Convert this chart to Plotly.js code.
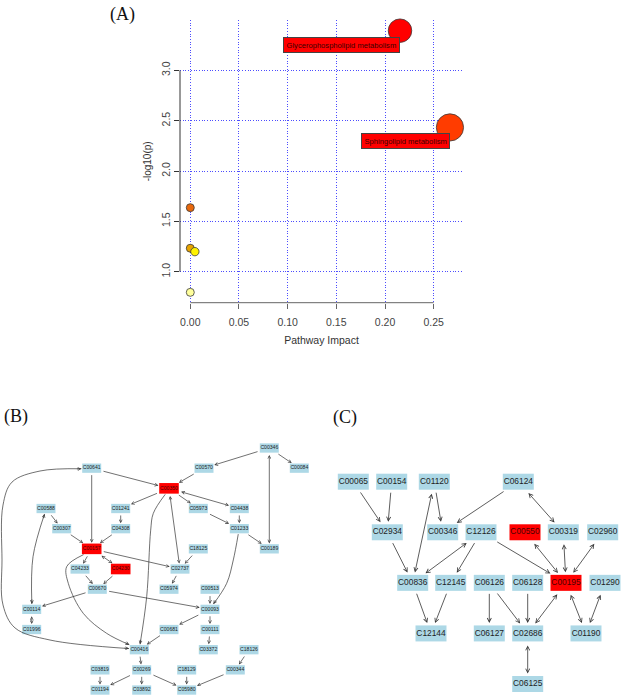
<!DOCTYPE html>
<html><head><meta charset="utf-8">
<script src="https://cdn.plot.ly/plotly-3.0.1.min.js"></script>
<style>html,body{margin:0;padding:0;background:#fff}#chart{width:622px;height:697px}</style>
</head><body><div id="chart"></div>
<script>
// ================= DATA =================
// Panel A : pathway analysis
var pathwayNames  = ['Glycerophospholipid metabolism','Sphingolipid metabolism','','','',''];
var pathwayImpact = [0.2154, 0.2667, 0.0, 0.0, 0.0047, 0.0];
var pathwayLogP   = [3.394, 2.433, 1.636, 1.233, 1.199, 0.795];
var impactTicks   = [0, 0.05, 0.10, 0.15, 0.20, 0.25];
var logpTicks     = [1.0, 1.5, 2.0, 2.5, 3.0];

// Panel B : network (x in layout points, y in layout rank)
var netBIds = ['C00346','C00570','C00084','C00641','C00350','C00588','C01241','C05973','C04438',
  'C00307','C04308','C01233','C00157','C18125','C00189','C04233','C04230','C02737','C00670',
  'C05974','C00513','C00114','C00093','C01996','C00681','C00111','C00416','C03372','C18126',
  'C03819','C00269','C18129','C00344','C01194','C03892','C05980'];
var netBX = [269.3,204,299.3,91.7,169,46,120.7,198.3,239.3,
  61.7,120.7,239.3,91.7,198.3,269.3,80,120.7,180,97.3,
  169,210,31.7,210,31.7,169,210,139.3,208.3,249,
  100,141.7,186.7,235.3,100,141.7,186.7];
var netBRank = [0,1,1,1,2,3,3,3,3,
  4,4,4,5,5,5,6,6,6,7,
  7,7,8,8,9,9,9,10,10,10,
  11,11,11,11,12,12,12];
var netBHits = ['C00350','C00157','C04230'];
var netBEdges = [
  ['C00346','C00570','->'],['C00346','C00084','->'],['C00346','C00189','<->'],
  ['C00570','C00350','->'],['C00641','C00350','->'],['C00641','C00157','->'],
  ['C00350','C01241','->'],['C00350','C05973','->'],['C00350','C04438','<->'],
  ['C00350','C02737','<->'],['C01241','C04308','->'],['C04308','C00157','->'],
  ['C00588','C00307','->'],['C00307','C00157','->'],['C04438','C01233','->'],
  ['C05973','C01233','->'],['C01233','C00189','->'],['C00157','C04233','->'],
  ['C00157','C04230','<->'],['C00157','C02737','->'],['C18125','C02737','->'],
  ['C02737','C05974','->'],['C04233','C00670','->'],['C04230','C00670','->'],
  ['C00670','C00114','->'],['C00670','C00093','->'],['C00513','C00093','->'],
  ['C00114','C01996','<->'],['C00093','C00681','->'],['C00093','C00111','->'],
  ['C00681','C00416','->'],['C00111','C03372','->'],['C00416','C00269','->'],
  ['C18126','C00344','->'],['C00344','C05980','->'],['C18129','C05980','->'],
  ['C00269','C01194','->'],['C00269','C03892','->'],['C00269','C05980','->'],
  ['C03819','C01194','->']
];
// routed (curved) edges, with routing points
var netBCurvedEdges = [
  {from:'C00641', to:'C00416', dir:'<->', via:[[40,1.14],[12,1.69],[3,2.83],[2,5.55],[3,7.78],[15,8.92],[50,9.52]]},
  {from:'C00588', to:'C00114', dir:'<->', via:[[33,5.39]]},
  {from:'C00350', to:'C00416', dir:'->',  via:[[153.3,3.24],[150.7,4.07],[146.7,7.37]]},
  {from:'C00157', to:'C00416', dir:'->',  via:[[66.7,5.88],[68.3,6.71],[83.3,8.2],[106.7,9.19]]},
  {from:'C01233', to:'C00093', dir:'->',  via:[[233.3,5.55],[226.7,6.71]]}
];

// Panel C : network
var netCIds = ['C00065','C00154','C01120','C06124','C02934','C00346','C12126','C00550','C00319',
  'C02960','C00836','C12145','C06126','C06128','C00195','C01290','C12144','C06127','C02686',
  'C01190','C06125'];
var netCX = [43.3,81.7,124.3,208.3,77.3,132.7,171,215,253.3,
  292.7,102.7,140.7,179.3,217.7,256,295,121,179.3,217.7,
  276,217.7];
var netCRank = [0,0,0,0,1,1,1,1,1,
  1,2,2,2,2,2,2,3,3,3,
  3,4];
var netCHits = ['C00550','C00195'];
var netCEdges = [
  ['C00065','C02934','->'],['C00154','C02934','->'],['C01120','C00346','->'],
  ['C01120','C00836','<->'],['C06124','C00346','->'],['C06124','C00319','<->'],
  ['C02934','C00836','->'],['C12126','C00836','<->'],['C12126','C12145','->'],
  ['C12126','C00195','->'],['C00550','C00195','<->'],['C00319','C00195','<->'],
  ['C02960','C00195','<->'],['C00836','C12144','->'],['C12145','C12144','->'],
  ['C06126','C06127','->'],['C06126','C02686','->'],['C06128','C02686','->'],
  ['C00195','C02686','<->'],['C00195','C01190','<->'],['C01290','C01190','<->'],
  ['C02686','C06125','<->']
];

// ================= STYLE / GEOMETRY =================
var W = 622, H = 697;
var SANS = 'Liberation Sans, Arial, sans-serif';
var SERIF = 'Liberation Serif, Times New Roman, serif';
var heatPalette = ['#FF0000','#FF3C00','#E8680C','#E8A400','#FFF200','#FFFF9C'];
var netTop = 400; // px
var cfgB = {xa:'x2', ya:'y2', xDomain:[0, 310/W], xRange:[0,310], yRange:[12.345,-2.38],
  hw:9.5, hh:4.65, hwHit:9.8, hhHit:5.3, gapHead:0.8, gapTail:0.8,
  font:5.1, asize:0.85, awidth:0.7, lineW:0.7};
var cfgC = {xa:'x3', ya:'y3', xDomain:[310/W, 1], xRange:[0,312], yRange:[4.257,-1.6154],
  hw:15.5, hh:8, hwHit:15.5, hhHit:8, gapHead:2.5, gapTail:1.5,
  font:8.4, asize:1.0, awidth:0.8, lineW:0.8};
[cfgB, cfgC].forEach(function(c){
  var dh = H - netTop, dw = (c.xDomain[1]-c.xDomain[0])*W;
  c.pxX = dw / (c.xRange[1]-c.xRange[0]);
  c.pxY = dh / Math.abs(c.yRange[0]-c.yRange[1]);
});

function bdist(hw, hh, ux, uy){
  var tx = Math.abs(ux) > 1e-9 ? hw/Math.abs(ux) : Infinity;
  var ty = Math.abs(uy) > 1e-9 ? hh/Math.abs(uy) : Infinity;
  return Math.min(tx, ty);
}

var traces = [], shapes = [], annotations = [];

// ---------- Panel A ----------
var order = pathwayLogP.map(function(v,i){return i;}).sort(function(a,b){return pathwayLogP[b]-pathwayLogP[a];});
var colA = new Array(pathwayLogP.length);
order.forEach(function(idx, r){ colA[idx] = heatPalette[r]; });
traces.push({
  type:'scatter', mode:'markers', xaxis:'x', yaxis:'y',
  x: pathwayImpact, y: pathwayLogP, text: pathwayNames, hoverinfo:'skip',
  marker:{size: pathwayImpact.map(function(v){return 8 + 72*v;}), color: colA,
          line:{color:'#3a3a3a', width:0.8}, opacity:1},
  cliponaxis:false
});
pathwayNames.forEach(function(n, i){
  if (!n) return;
  annotations.push({xref:'x', yref:'y', x: pathwayImpact[i], y: pathwayLogP[i],
    xanchor:'right', yanchor:'top', yshift:-6, showarrow:false, text:n,
    bgcolor:'#FF0000', bordercolor:'#444', borderwidth:1, borderpad:2.5,
    font:{family:SANS, size:7.6, color:'#3a0000'}});
});
shapes.push({type:'line', xref:'x', yref:'y domain', x0:impactTicks[0], x1:impactTicks[impactTicks.length-1], y0:0, y1:0,
  line:{color:'#666', width:1}});
shapes.push({type:'line', xref:'x domain', yref:'y', x0:0, x1:0, y0:logpTicks[0], y1:logpTicks[logpTicks.length-1],
  line:{color:'#333', width:1}});

// ---------- Networks ----------
function buildNet(c, ids, xs, ranks, hits, edges, curved){
  var idx = {}; ids.forEach(function(id,i){ idx[id]=i; });
  function isHit(id){ return hits.indexOf(id) >= 0; }
  function half(id){ return isHit(id) ? [c.hwHit, c.hhHit] : [c.hw, c.hh]; }
  // nodes
  ids.forEach(function(id, i){
    var h = half(id);
    shapes.push({type:'rect', xref:c.xa, yref:c.ya, layer:'below',
      x0: xs[i]-h[0]/c.pxX, x1: xs[i]+h[0]/c.pxX, y0: ranks[i]-h[1]/c.pxY, y1: ranks[i]+h[1]/c.pxY,
      fillcolor: isHit(id) ? '#FF0000' : '#ADD8E6', line:{width:0}});
  });
  [false, true].forEach(function(hitGroup){
    var tx=[], ty=[], tt=[];
    ids.forEach(function(id,i){ if (isHit(id)===hitGroup){ tx.push(xs[i]); ty.push(ranks[i]); tt.push(id);} });
    traces.push({type:'scatter', mode:'text', xaxis:c.xa, yaxis:c.ya, x:tx, y:ty, text:tt,
      textposition:'middle center', hoverinfo:'skip', cliponaxis:false,
      textfont:{family:SANS, size:c.font, color: hitGroup ? '#4a0000' : '#1e1e1e'}});
  });
  var arrowBase = {xref:c.xa, yref:c.ya, axref:c.xa, ayref:c.ya, text:'', showarrow:true,
    arrowhead:5, startarrowhead:5, arrowsize:c.asize, startarrowsize:c.asize,
    arrowwidth:c.awidth, arrowcolor:'#333'};
  function arrow(o){ var a = {}; for (var k in arrowBase) a[k]=arrowBase[k]; for (var k2 in o) a[k2]=o[k2]; return a; }
  // straight edges
  edges.forEach(function(e){
    var t = idx[e[0]], h = idx[e[1]];
    var dx = (xs[h]-xs[t])*c.pxX, dy = (ranks[h]-ranks[t])*c.pxY, L = Math.hypot(dx,dy);
    var ux = dx/L, uy = dy/L;
    var hh = half(e[1]), th = half(e[0]);
    var dbl = e[2] === '<->';
    annotations.push(arrow({x: xs[h], y: ranks[h], ax: xs[t], ay: ranks[t],
      standoff: bdist(hh[0],hh[1],ux,uy) + c.gapHead,
      startstandoff: bdist(th[0],th[1],ux,uy) + (dbl ? c.gapHead : c.gapTail),
      arrowside: dbl ? 'end+start' : 'end'}));
  });
  // curved edges
  (curved||[]).forEach(function(e){
    var t = idx[e.from], h = idx[e.to], dbl = e.dir === '<->';
    function edgePoint(n, toward, gap){
      var dx = (toward[0]-xs[n])*c.pxX, dy = (toward[1]-ranks[n])*c.pxY, L = Math.hypot(dx,dy);
      var ux = dx/L, uy = dy/L, hf = half(ids[n]);
      var d = bdist(hf[0],hf[1],ux,uy) + gap;
      return [xs[n] + ux*d/c.pxX, ranks[n] + uy*d/c.pxY];
    }
    var p0 = edgePoint(t, e.via[0], dbl ? c.gapHead : c.gapTail);
    var p1 = edgePoint(h, e.via[e.via.length-1], c.gapHead);
    var pts = [p0].concat(e.via).concat([p1]);
    traces.push({type:'scatter', mode:'lines', xaxis:c.xa, yaxis:c.ya, hoverinfo:'skip',
      x: pts.map(function(p){return p[0];}), y: pts.map(function(p){return p[1];}),
      line:{color:'#333', width:c.lineW, shape:'spline', smoothing:1}});
    function head(tip, from){
      var dx = (tip[0]-from[0])*c.pxX, dy = (tip[1]-from[1])*c.pxY, L = Math.hypot(dx,dy);
      var ux = dx/L, uy = dy/L, back = 6;
      annotations.push(arrow({x: tip[0], y: tip[1], ax: tip[0]-ux*back/c.pxX, ay: tip[1]-uy*back/c.pxY,
        standoff:0, startstandoff:0, arrowside:'end'}));
    }
    head(p1, e.via[e.via.length-1]);
    if (dbl) head(p0, e.via[0]);
  });
}
buildNet(cfgB, netBIds, netBX, netBRank, netBHits, netBEdges, netBCurvedEdges);
buildNet(cfgC, netCIds, netCX, netCRank, netCHits, netCEdges, []);

// panel letters
[['(A)',108,15],['(B)',2,416.5],['(C)',331,417]].forEach(function(p){
  annotations.push({xref:'paper', yref:'paper', x:p[1]/W, y:1-p[2]/H, xanchor:'left', yanchor:'middle',
    showarrow:false, text:p[0], font:{family:SERIF, size:18, color:'#111'}});
});

var hiddenAxis = function(c, which){
  var o = {visible:false, fixedrange:true, showgrid:false, zeroline:false};
  if (which==='x'){ o.domain=c.xDomain; o.range=c.xRange; o.anchor=c.ya; }
  else { o.domain=[0,(H-netTop)/H]; o.range=c.yRange; o.anchor=c.xa; }
  return o;
};

var layout = {
  width:W, height:H, margin:{l:0,r:0,t:0,b:0}, paper_bgcolor:'#ffffff', plot_bgcolor:'rgba(0,0,0,0)',
  showlegend:false, hovermode:false,
  xaxis:{domain:[180/W, 463/W], range:[-0.01057, 0.2801], anchor:'y',
    tickvals:impactTicks, ticktext:impactTicks.map(function(v){return v.toFixed(2);}),
    ticks:'outside', ticklen:5, tickcolor:'#666', tickwidth:1, ticklabelstandoff:5,
    showline:false, zeroline:false, showgrid:true, gridcolor:'#4d4dff', gridwidth:1, griddash:'1px,1.7px',
    tickfont:{family:SANS, size:10.5, color:'#444'},
    title:{text:'Pathway Impact', font:{family:SANS, size:10.5, color:'#333'}, standoff:9}},
  yaxis:{domain:[1-302.7/H, 1-20/H], range:[0.692, 3.5], anchor:'x',
    tickvals:logpTicks, ticktext:logpTicks.map(function(v){return v.toFixed(1);}), tickangle:-90,
    ticks:'outside', ticklen:5, tickcolor:'#333', tickwidth:1,
    showline:false, zeroline:false, showgrid:true, gridcolor:'#4d4dff', gridwidth:1, griddash:'1px,1.7px',
    tickfont:{family:SANS, size:10.5, color:'#444'},
    title:{text:'-log10(p)', font:{family:SANS, size:10, color:'#333'}, standoff:6}},
  xaxis2: hiddenAxis(cfgB,'x'), yaxis2: hiddenAxis(cfgB,'y'),
  xaxis3: hiddenAxis(cfgC,'x'), yaxis3: hiddenAxis(cfgC,'y'),
  shapes: shapes, annotations: annotations
};
Plotly.newPlot('chart', traces, layout, {staticPlot:true, displayModeBar:false});
</script></body></html>
